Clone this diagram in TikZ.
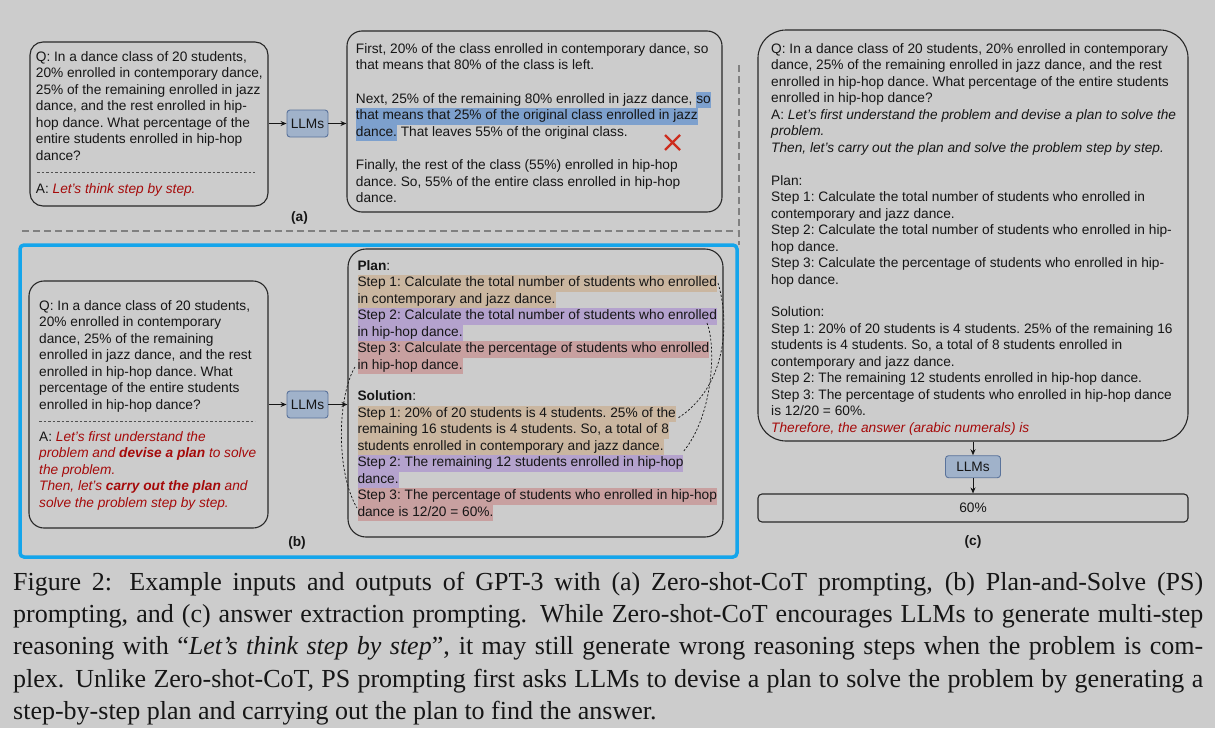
\documentclass[tikz,border=0pt]{standalone}
\usepackage{fontspec}
\setmainfont{Liberation Sans}
\newfontfamily\legende{Liberation Serif}
\usepackage{xcolor}
\definecolor{fond}{RGB}{204,204,204}
\definecolor{encre}{RGB}{22,22,22}
\definecolor{trait}{RGB}{40,40,40}
\definecolor{gris}{RGB}{128,128,128}
\definecolor{bleucadre}{RGB}{20,165,235}
\definecolor{bleullm}{RGB}{160,178,202}
\definecolor{bleullmbord}{RGB}{90,115,155}
\definecolor{rouge}{RGB}{165,10,10}
\definecolor{croix}{RGB}{205,45,30}
\definecolor{hlbleu}{RGB}{125,160,205}
\definecolor{beige}{RGB}{202,182,160}
\definecolor{mauve}{RGB}{180,162,205}
\definecolor{rose}{RGB}{200,160,160}
\usepackage{tikz}
\usetikzlibrary{arrows.meta,positioning}
\newcommand{\surl}[2]{{\setlength{\fboxsep}{0pt}\colorbox{#1}{\strut #2}}}
\newcommand{\rougeit}[1]{\textcolor{rouge}{\itshape #1}}

\begin{document}
\begin{tikzpicture}[x=1pt,y=-1pt,font=\fontsize{13.7}{16.5}\selectfont\frenchspacing,
    boite/.style={draw=trait,line width=1.1pt,rounded corners=#1,inner sep=0pt,text=encre},
    boite/.default=13pt,
    llm/.style={draw=bleullmbord,fill=bleullm,line width=0.9pt,rounded corners=3pt,inner sep=0pt,minimum width=41pt,minimum height=27pt,text=encre},
    texte/.style={anchor=north west,inner sep=0pt,align=left,text=encre},
    fleche/.style={encre,line width=0.9pt,-{Stealth[length=6pt,width=5pt]}},
    lien/.style={encre,line width=0.7pt,dash pattern=on 2.2pt off 1.8pt},
    sep/.style={gris,line width=2pt,dash pattern=on 7pt off 4pt},
    tiret/.style={encre!75,line width=0.7pt,dash pattern=on 2.5pt off 2pt},
    etiq/.style={font=\fontsize{13.7}{16.5}\selectfont\bfseries,text=encre}]
	%% fond et cadre de la page
	\fill[fond] (0,0) rectangle (1215,728);
	\useasboundingbox (0,0) rectangle (1215,728);
	
	%% séparateurs gris
	\draw[sep] (22,231) -- (737,231);
	\draw[sep] (739,65) -- (739,245);
	%% cadre bleu autour de (b)
	\draw[bleucadre,line width=3.5pt,rounded corners=4pt] (20,245) rectangle (737,557);
	
	%% (a) Zero-shot-CoT
	\node[boite,minimum width=238pt,minimum height=164pt] (qa) at (149,124) {};
	\node[texte] (qa-txt) at (35.7,49.7) {\strut Q: In a dance class of 20 students,\\
		20\% enrolled in contemporary dance,\\
		25\% of the remaining enrolled in jazz\\
		dance, and the rest enrolled in hip-\\
		hop dance. What percentage of the\\
		entire students enrolled in hip-hop\\
		dance?};
	\draw[tiret] (37,172) -- (255,172);
	\node[texte] (qa-rep) at (35.7,181.3) {\strut A: \rougeit{Let's think step by step.}};
	\node[llm] (llma) at (307.5,123.5) {LLMs};
	\node[boite=15pt,minimum width=375pt,minimum height=181pt] (ra) at (534.5,121.5) {};
	\node[texte] (ra-txt) at (355.7,41.3) {\strut First, 20\% of the class enrolled in contemporary dance, so\\
		that means that 80\% of the class is left.\\[17pt]
		Next, 25\% of the remaining 80\% enrolled in jazz dance, \surl{hlbleu}{so}\\
		\surl{hlbleu}{that means that 25\% of the original class enrolled in jazz}\\
		\surl{hlbleu}{dance.} That leaves 55\% of the original class.\\[17pt]
		Finally, the rest of the class (55\%) enrolled in hip-hop\\
		dance. So, 55\% of the entire class enrolled in hip-hop\\
		dance.};
	\draw[fleche] (qa.east |- llma) -- (llma.west);
	\draw[fleche] (llma.east) -- (llma.east -| ra.west);
	%% croix rouge
	\draw[croix,line width=2.4pt] (665,135) -- (680,150) (665,150) -- (680,135);
	\node[etiq] (lab-a) at (299.5,218) {(a)};
	
	%% (b) Plan-and-Solve
	\node[boite=15pt,minimum width=239pt,minimum height=247pt] (qb) at (148.5,404.5) {};
	\node[texte] (qb-txt) at (39,298.7) {\strut Q: In a dance class of 20 students,\\
		20\% enrolled in contemporary\\
		dance, 25\% of the remaining\\
		enrolled in jazz dance, and the rest\\
		enrolled in hip-hop dance. What\\
		percentage of the entire students\\
		enrolled in hip-hop dance?};
	\draw[tiret] (39,421.7) -- (255,421.7);
	\node[texte] (qb-rep) at (39,429.7) {\strut A: \rougeit{Let's first understand the}\\
		\rougeit{problem and \textbf{devise a plan} to solve}\\
		\rougeit{the problem.}\\
		\rougeit{Then, let's \textbf{carry out the plan} and}\\
		\rougeit{solve the problem step by step.}};
	\node[llm] (llmb) at (307.5,404.5) {LLMs};
	\node[boite=18pt,minimum width=375pt,minimum height=288pt] (rb) at (535.5,393) {};
	\node[texte] (rb-txt) at (357.3,258.7) {\strut\textbf{Plan}:\\
		\surl{beige}{Step 1: Calculate the total number of students who enrolled}\\
		\surl{beige}{in contemporary and jazz dance.}\\
		\surl{mauve}{Step 2: Calculate the total number of students who enrolled}\\
		\surl{mauve}{in hip-hop dance.}\\
		\surl{rose}{Step 3: Calculate the percentage of students who enrolled}\\
		\surl{rose}{in hip-hop dance.}\\[15pt]
		\textbf{Solution}:\\
		\surl{beige}{Step 1: 20\% of 20 students is 4 students. 25\% of the}\\
		\surl{beige}{remaining 16 students is 4 students. So, a total of 8}\\
		\surl{beige}{students enrolled in contemporary and jazz dance.}\\
		\surl{mauve}{Step 2: The remaining 12 students enrolled in hip-hop}\\
		\surl{mauve}{dance.}\\
		\surl{rose}{Step 3: The percentage of students who enrolled in hip-hop}\\
		\surl{rose}{dance is 12/20 = 60\%.}};
	\draw[fleche] (qb.east) -- (llmb.west);
	\draw[fleche] (llmb.east) -- (llmb.east -| rb.west);
	%% liens plan -> solution
	\coordinate (plan1) at (718,283);
	\coordinate (sol1) at (678,418);
	\coordinate (plan2) at (707,323);
	\coordinate (sol2) at (683,452);
	\coordinate (plan3) at (355,367);
	\coordinate (sol3) at (357,508);
	\draw[lien] (plan1) .. controls (732,330) and (722,390) .. (sol1);
	\draw[lien] (plan2) .. controls (716,345) and (714,415) .. (sol2);
	\draw[lien] (plan3) .. controls (338,395) and (335,470) .. (sol3);
	\node[etiq] (lab-b) at (297,543) {(b)};
	
	%% (c) extraction de la réponse
	\node[boite=28pt,minimum width=430pt,minimum height=411pt] (qc) at (973,235.5) {};
	\node[texte] (qc-txt) at (771,41.3) {\strut Q: In a dance class of 20 students, 20\% enrolled in contemporary\\
		dance, 25\% of the remaining enrolled in jazz dance, and the rest\\
		enrolled in hip-hop dance. What percentage of the entire students\\
		enrolled in hip-hop dance?\\
		A: \textit{Let's first understand the problem and devise a plan to solve the}\\
		\textit{problem.}\\
		\textit{Then, let's carry out the plan and solve the problem step by step.}\\[16.5pt]
		Plan:\\
		Step 1: Calculate the total number of students who enrolled in\\
		contemporary and jazz dance.\\
		Step 2: Calculate the total number of students who enrolled in hip-\\
		hop dance.\\
		Step 3: Calculate the percentage of students who enrolled in hip-\\
		hop dance.\\[16pt]
		Solution:\\
		Step 1: 20\% of 20 students is 4 students. 25\% of the remaining 16\\
		students is 4 students. So, a total of 8 students enrolled in\\
		contemporary and jazz dance.\\
		Step 2: The remaining 12 students enrolled in hip-hop dance.\\
		Step 3: The percentage of students who enrolled in hip-hop dance\\
		is 12/20 = 60\%.\\
		\rougeit{Therefore, the answer (arabic numerals) is}};
	\node[llm,minimum width=55pt,minimum height=22pt] (llmc) at (973,466.7) {LLMs};
	\node[boite=4pt,minimum width=430pt,minimum height=28pt] (rc) at (973,508) {60\%};
	\draw[fleche] (qc.south) -- (llmc.north);
	\draw[fleche] (llmc.south) -- (rc.north);
	\node[etiq] (lab-c) at (973,542) {(c)};
	
	%% légende
	\node[anchor=north west,inner sep=0pt,text width=1190pt,align=justify,text=encre,
	      font=\legende\fontsize{26}{32.3}\selectfont] (leg) at (13,567.4)
	  {\hyphenpenalty=10000\exhyphenpenalty=10000\strut Figure 2: Example inputs and outputs of GPT-3 with (a) Zero-shot-CoT prompting, (b) Plan-and-Solve (PS)\linebreak
	  prompting, and (c) answer extraction prompting. While Zero-shot-CoT encourages LLMs to generate multi-step\linebreak
	  reasoning with “\textit{Let’s think step by step}”, it may still generate wrong reasoning steps when the problem is com-\linebreak
	  plex. Unlike Zero-shot-CoT, PS prompting first asks LLMs to devise a plan to solve the problem by generating a\linebreak
	  step-by-step plan and carrying out the plan to find the answer.};
\end{tikzpicture}
\end{document}
